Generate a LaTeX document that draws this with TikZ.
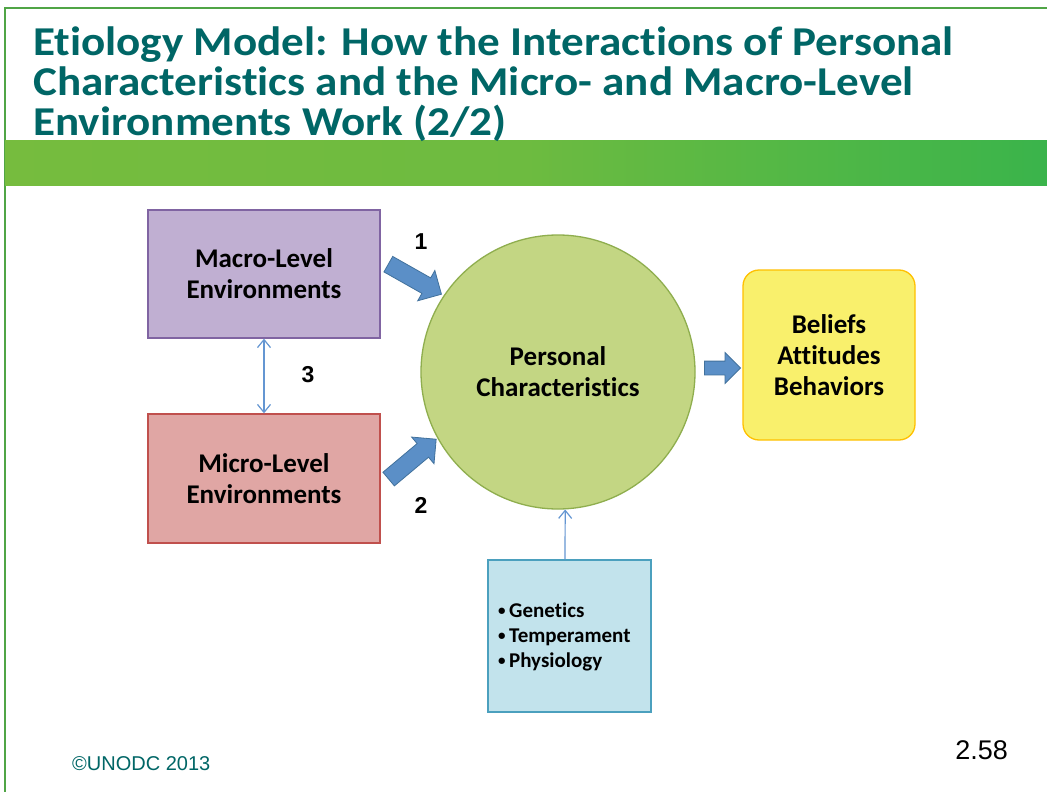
\documentclass[tikz,border=0pt]{standalone}
\usepackage{fontspec}
\setmainfont{Carlito}[Ligatures=NoCommon]
\newfontfamily\titlefont{Carlito}[Ligatures=NoCommon,FakeStretch=1.1]
\newfontfamily\arialfont{Liberation Sans}
\usetikzlibrary{shapes.arrows,arrows.meta}
\definecolor{teal}{RGB}{0,102,102}
\definecolor{frame}{RGB}{80,165,70}
\definecolor{macrofill}{RGB}{192,175,210}
\definecolor{macroline}{RGB}{128,100,162}
\definecolor{microfill}{RGB}{224,166,164}
\definecolor{microline}{RGB}{192,80,77}
\definecolor{circfill}{RGB}{195,214,131}
\definecolor{circline}{RGB}{143,174,78}
\definecolor{yelfill}{RGB}{249,240,108}
\definecolor{yelline}{RGB}{255,192,0}
\definecolor{bluefill}{RGB}{194,227,236}
\definecolor{blueline}{RGB}{75,160,190}
\definecolor{arrfill}{RGB}{91,143,199}
\definecolor{arrline}{RGB}{65,113,156}
\definecolor{thin}{RGB}{100,150,210}
\definecolor{bandl}{RGB}{118,188,62}
\definecolor{bandr}{RGB}{58,180,75}
\newcommand{\smallbul}{\raisebox{2.5pt}{\fontsize{15}{15}\selectfont•}\,}
\tikzset{
  box/.style={draw, line width=1.3pt, font=\bfseries\fontsize{27}{31}\selectfont, align=center, inner sep=0pt},
  blockarrow/.style={single arrow, draw=arrline, fill=arrfill, line width=0.8pt, inner sep=0pt,
     single arrow tip angle=90},
  num/.style={font=\arialfont\bfseries\fontsize{23}{23}\selectfont},
  barbtip/.tip={Straight Barb[length=8pt,width=13pt]},
  thinarrow/.style={draw=thin, line width=1.2pt, -barbtip}
}
\begin{document}
\begin{tikzpicture}[x=1pt,y=-1pt]
\useasboundingbox (0,0) rectangle (1047,792);
\fill[white] (0,0) rectangle (1047,792);
% frame
\draw[frame, line width=2pt] (4.5,792) -- (4.5,8) -- (1047,8);
% band
\shade[left color=bandl, right color=bandr, middle color=bandl!85!bandr] (5,140) rectangle (1047,185);
% title
\node[anchor=north west, align=left, text=teal, inner sep=0pt, font=\titlefont\bfseries\fontsize{41}{40}\selectfont] (title) at (33,27)
{Etiology Model: How the Interactions of Personal\\Characteristics and the Micro- and Macro-Level\\Environments Work (2/2)};
% boxes
\node[box, fill=macrofill, draw=macroline, minimum width=232pt, minimum height=128pt] (macro) at (264,274) {Macro-Level\\Environments};
\node[box, fill=microfill, draw=microline, minimum width=232pt, minimum height=129pt] (micro) at (264,478.5) {Micro-Level\\Environments};
\node[box, circle, fill=circfill, draw=circline, minimum size=274pt] (pc) at (558,372) {Personal\\Characteristics};
\node[box, rounded corners=16pt, fill=yelfill, draw=yelline, minimum width=172pt, minimum height=170pt] (bel) at (829,355) {Beliefs\\Attitudes\\Behaviors};
\node[box, fill=bluefill, draw=blueline, minimum width=163pt, minimum height=152pt] (gen) at (569.5,636) {};
\node[anchor=west, align=left, inner sep=0pt, font=\bfseries\fontsize{21}{25}\selectfont] (gentext) at (498,637)
{\smallbul Genetics\\\smallbul Temperament\\\smallbul Physiology};
% block arrows
\node[blockarrow, inner ysep=8.5pt, minimum height=61pt, single arrow head extend=8.5pt, rotate=-29.5] (a1) at (411,277) {};
\node[blockarrow, inner ysep=8.5pt, minimum height=62pt, single arrow head extend=8.5pt, rotate=40] (a2) at (409,462) {};
\node[blockarrow, inner ysep=6.5pt, minimum height=36pt, single arrow head extend=8.5pt] (a3) at (719,368) {};
% numbers
\node[num] (n1) at (421,242) {1};
\node[num] (n2) at (421,505) {2};
\node[num] (n3) at (308,375) {3};
% thin arrows
\draw[thinarrow, barbtip-barbtip] (macro.south) -- (micro.north);
\draw[thinarrow] ([xshift=-4.5pt]gen.north) -- (pc.-87);
% footer
\node[anchor=west, text=teal, inner sep=0pt, font=\arialfont\fontsize{20}{20}\selectfont] (copy) at (72,764) {©UNODC 2013};
\node[anchor=east, inner sep=0pt, font=\arialfont\fontsize{27}{27}\selectfont] (page) at (1008,750) {2.58};
\end{tikzpicture}
\end{document}
